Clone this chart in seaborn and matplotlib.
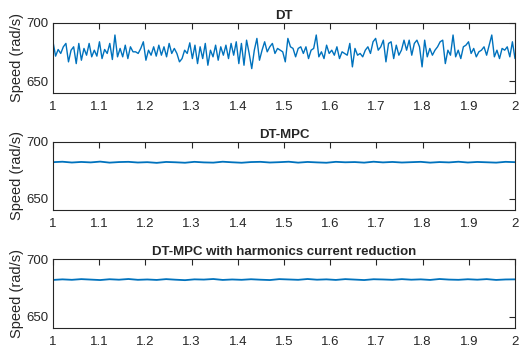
import numpy as np
import pandas as pd
import matplotlib
matplotlib.use("Agg")
import matplotlib.pyplot as plt
import seaborn as sns

# ---- data ----
dt_speed = [
    683.9, 671.6, 677.3, 673.9, 679.6, 682.5, 666.7, 676.7, 679.6, 665.2,
    682.5, 668.1, 678.2, 672.4, 682.5, 671.0, 676.7, 671.6, 683.9, 669.5,
    677.3, 673.9, 682.5, 668.7, 689.7, 671.0, 678.2, 671.0, 681.0, 669.5,
    679.6, 675.3, 675.3, 673.9, 678.2, 683.9, 668.1, 676.7, 672.4, 679.6,
    671.6, 681.0, 672.4, 679.6, 671.0, 682.5, 673.9, 678.2, 673.9, 666.7,
    669.5, 676.7, 673.9, 683.0, 669.5, 681.0, 665.2, 679.6, 669.5, 682.5,
    663.8, 676.7, 671.0, 681.0, 668.1, 679.6, 672.4, 681.0, 669.5, 682.5,
    672.4, 683.9, 665.2, 682.5, 663.8, 685.3, 673.9, 660.9, 676.7, 686.8,
    668.1,
    676.7, 683.9, 675.3, 679.6, 682.5, 673.9, 678.2, 676.7, 675.3, 666.7,
    686.8, 679.6, 678.2, 671.0, 678.2, 679.6, 673.9, 679.6, 669.5, 676.7,
    678.2, 689.7, 671.0, 675.3, 669.5, 681.0, 673.9, 676.7, 672.4, 679.6,
    669.5, 675.3, 673.9, 672.4, 682.5, 662.4, 678.2, 672.4, 673.9, 671.0,
    676.7, 679.6, 673.9, 683.9, 686.8, 676.7, 679.6, 685.3, 666.7, 682.5,
    683.9, 669.5, 681.0, 672.4, 676.7, 685.3, 676.7, 685.3, 672.4, 682.5,
    685.3, 679.6, 662.4, 685.3, 671.0, 678.2, 672.4, 676.7, 679.6, 683.9,
    685.3, 665.2, 676.7, 672.4, 689.7, 671.0, 676.7, 669.5, 679.6, 681.0,
    683.9, 673.9, 678.2, 671.0, 675.3, 676.7, 679.6, 672.4, 681.0, 689.7,
    671.0, 676.7, 669.5, 678.2, 676.7, 679.6, 671.0, 683.9, 669.5,
]
mpc_speed = [
    682.2, 682.6, 681.9, 682.4, 682.0, 682.7, 681.8, 682.3, 682.5, 681.9,
    682.2, 681.6, 682.4, 682.1, 681.7, 682.5, 682.0, 681.8, 682.6, 682.1,
    681.7, 682.3, 682.5, 681.9, 682.2, 682.6, 681.8, 682.4, 682.0, 681.7,
    682.5, 682.1, 682.3, 681.8, 682.6, 682.0, 682.4, 681.9, 682.2, 682.5,
    681.8, 682.3, 682.0, 682.6, 681.9, 682.4, 682.1, 681.8, 682.5, 682.2,
]
hcr_speed = [
    681.8, 682.3, 681.9, 682.5, 682.1, 681.7, 682.4, 682.0, 682.6, 681.9,
    682.2, 681.8, 682.5, 682.0, 681.6, 682.3, 682.1, 682.6, 681.8, 682.2,
    681.9, 682.4, 682.0, 681.7, 682.5, 682.2, 681.9, 682.6, 682.0, 682.3,
    681.8, 682.5, 682.1, 681.7, 682.4, 682.2, 681.9, 682.5, 682.0, 682.3,
    681.8, 682.6, 682.1, 681.9, 682.4, 682.0, 682.5, 681.8, 682.2, 682.3,
]
titles = ["DT", "DT-MPC", "DT-MPC with harmonics current reduction"]
x_ticks = [1.0, 1.1, 1.2, 1.3, 1.4, 1.5, 1.6, 1.7, 1.8, 1.9, 2.0]
x_tick_labels = ["1", "1.1", "1.2", "1.3", "1.4", "1.5", "1.6", "1.7", "1.8", "1.9", "2"]
y_ticks = [650, 700]
y_label = "Speed (rad/s)"

# ---- style ----
sns.set_style("white")
plt.rcParams['font.family'] = ['Liberation Sans Narrow', 'Liberation Sans', 'DejaVu Sans']

fig = plt.figure(figsize=(5.19, 3.51), dpi=100)
fig.patch.set_facecolor("white")

W, H = 519, 351
boxes = [(53, 23, 515, 93), (53, 142, 515, 210), (53, 259, 515, 328)]
series = [dt_speed, mpc_speed, hcr_speed]
widths = [1.0, 1.3, 1.3]

for (x0, y0, x1, y1), vals, title, lw in zip(boxes, series, titles, widths):
    ax = fig.add_axes([x0 / W, 1 - y1 / H, (x1 - x0) / W, (y1 - y0) / H])
    df = pd.DataFrame({"t": np.linspace(1, 2, len(vals)), "speed": vals})
    sns.lineplot(data=df, x="t", y="speed", ax=ax, color="#0072BD",
                 linewidth=lw, estimator=None)
    ax.set_xlim(1, 2)
    ax.set_ylim(640, 700)
    ax.set_xticks(x_ticks)
    ax.set_xticklabels(x_tick_labels)
    ax.set_yticks(y_ticks)
    ax.set_xlabel("")
    ax.set_ylabel(y_label, family=['Liberation Sans', 'DejaVu Sans'],
                  fontsize=10.5, labelpad=2)
    ax.set_title(title, fontsize=9.5, fontweight="bold", pad=3)
    ax.tick_params(direction="in", length=4, width=0.8, top=True, right=True,
                   labelsize=9.5, colors="#262626", pad=3)
    ax.tick_params(axis="x", pad=6)
    for s in ax.spines.values():
        s.set_visible(True)
        s.set_color("#262626")
        s.set_linewidth(0.8)

fig.savefig("out.png", dpi=100, facecolor="white")
